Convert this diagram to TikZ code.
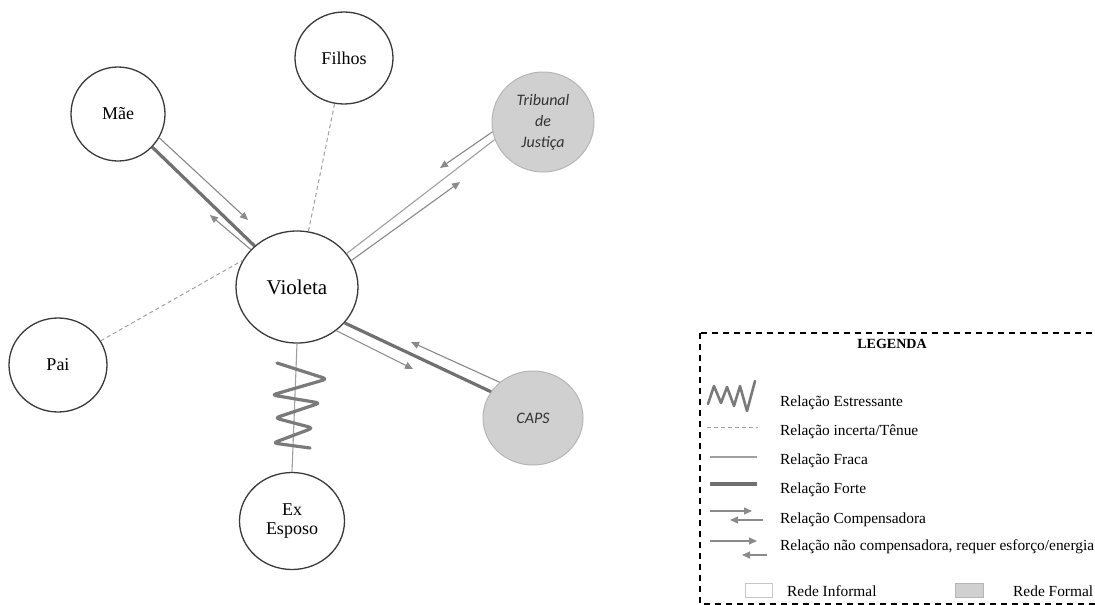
\documentclass[tikz,border=0pt]{standalone}
\usepackage{fontspec}
\setmainfont{Liberation Serif}
\newfontfamily\carlito{Carlito}
\usetikzlibrary{arrows.meta,shapes.geometric}
\definecolor{outl}{HTML}{3A3A3A}
\definecolor{formalfill}{HTML}{D0D0D0}
\definecolor{formaledge}{HTML}{B5B5B5}
\definecolor{formaltext}{HTML}{333333}
\definecolor{relgray}{HTML}{A0A0A0}
\definecolor{strongrel}{HTML}{707070}
\definecolor{arrowgray}{HTML}{8A8A8A}
\definecolor{stressgray}{HTML}{7A7A7A}
\begin{document}
\begin{tikzpicture}[x=1pt,y=-1pt,
  person/.style={ellipse, draw=outl, line width=1.3pt, fill=white, inner sep=0pt,
    font=\fontsize{18}{19}\selectfont, align=center},
  formal/.style={ellipse, draw=formaledge, line width=1pt, fill=formalfill, inner sep=0pt,
    font=\carlito\itshape\fontsize{16}{21}\selectfont, align=center, text=formaltext},
  fraca/.style={draw=relgray, line width=1.1pt},
  forte/.style={draw=strongrel, line width=3.2pt},
  tenue/.style={draw=relgray, line width=1pt, dash pattern=on 4pt off 3pt},
  seta/.style={draw=arrowgray, line width=1.1pt, -{Triangle[length=8pt,width=7pt]}, fill=arrowgray},
  estresse/.style={draw=stressgray, line width=3.2pt, line join=round, line cap=round},
  legtext/.style={anchor=base west, inner sep=0pt, font=\fontsize{15.4}{17}\selectfont}
]
\useasboundingbox (0,0) rectangle (1095,605);
\clip (0,0) rectangle (1095,605);

% nodes
\node[person, minimum width=94pt, minimum height=94pt] (mae) at (118,114) {Mãe};
\node[person, minimum width=98pt, minimum height=92pt] (fil) at (344,58) {Filhos};
\node[formal, minimum width=102pt, minimum height=100pt] (tri) at (543,122) {Tribunal\\de\\Justiça};
\node[person, minimum width=122pt, minimum height=112pt, font=\fontsize{21}{24}\selectfont] (vio) at (297,287) {Violeta};
\node[person, minimum width=98pt, minimum height=94pt] (pai) at (58,365) {Pai};
\node[formal, minimum width=100pt, minimum height=94pt] (caps) at (533,418) {CAPS};
\node[person, minimum width=105pt, minimum height=97pt] (ex) at (292,521) {Ex\\Esposo};

% free ends of the arrows
\coordinate (maeTip) at (248,220);
\coordinate (vioTipM) at (210,215);
\coordinate (triTip) at (440,168);
\coordinate (vioTipT) at (460,182);
\coordinate (vioTipC) at (413,369);
\coordinate (capsTip) at (411,342);

% Mae - Violeta
\draw[forte] (mae) -- (vio);
\draw[seta] (mae.-30) -- (maeTip);
\draw[seta] (vio.141) -- (vioTipM);

% Filhos, Pai
\draw[tenue] (fil) -- (vio);
\draw[tenue] (pai) -- (vio.154);

% Tribunal
\draw[fraca] (vio.34) -- (tri.200);
\draw[seta] (tri.191) -- (triTip);
\draw[seta] (vio.26) -- (vioTipT);

% CAPS
\draw[forte] (vio.-37) -- (caps.148);
\draw[seta] (vio.-48) -- (vioTipC);
\draw[seta] (caps.133) -- (capsTip);

% Ex Esposo
\draw[fraca] (vio.south) -- (ex.north);
\draw[estresse, rounded corners=4pt] (277,363) -- (327,379) -- (272,395) -- (320,403)
  -- (275,418) -- (313,428) -- (273,443) -- (310,448);

% legend
\draw[black, line width=1.8pt, dash pattern=on 6pt off 5pt] (700,333) rectangle (1120,604);
\node[anchor=base, inner sep=0pt, font=\bfseries\fontsize{14}{16}\selectfont] (leg) at (892,348) {LEGENDA};

\draw[estresse, line width=2.6pt] (708,404) -- (714,386) -- (721,403) -- (727,387) -- (734,406)
  -- (740,386) -- (747,411) -- (755,381);
\node[legtext] (l1) at (780,406) {Relação Estressante};

\draw[tenue] (707,427) -- (758,427);
\node[legtext] (l2) at (780,435) {Relação incerta/Tênue};

\draw[fraca] (710,457) -- (757,457);
\node[legtext] (l3) at (780,464) {Relação Fraca};

\draw[forte] (710,484) -- (757,484);
\node[legtext] (l4) at (780,493) {Relação Forte};

\draw[seta] (710,511) -- (752,511);
\draw[seta] (763,520) -- (730,520);
\node[legtext] (l5) at (780,523) {Relação Compensadora};

\draw[seta] (710,541) -- (757,541);
\draw[seta] (767,555) -- (742,555);
\node[legtext] (l6) at (780,550) {Relação não compensadora, requer esforço/energia};

\draw[draw=black!22, fill=white, line width=0.8pt] (745,583) rectangle (772,597);
\node[legtext] (l7) at (787,596) {Rede Informal};
\draw[draw=formaledge, fill=formalfill, line width=0.8pt] (955,583) rectangle (983,597);
\node[legtext] (l8) at (1013,596) {Rede Formal};
\end{tikzpicture}
\end{document}
